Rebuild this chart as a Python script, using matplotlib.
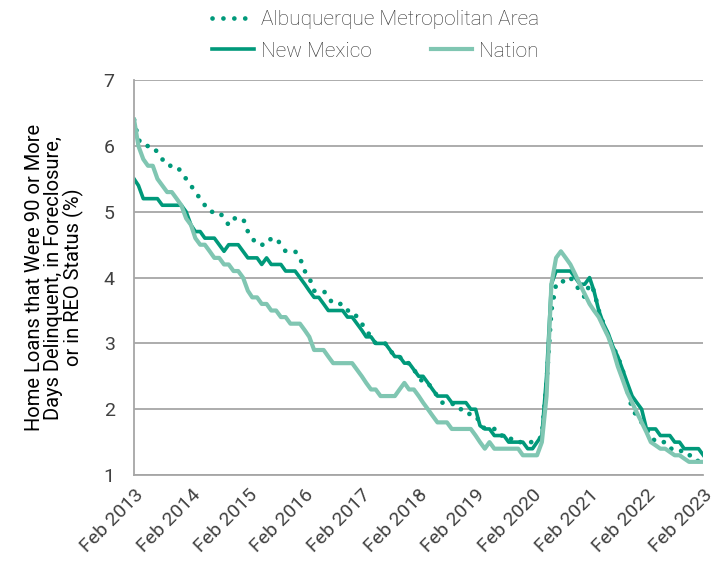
import numpy as np
import pandas as pd
import matplotlib
matplotlib.use("Agg")
import matplotlib.pyplot as plt

# Monthly values, Feb 2013 - Feb 2023 (%)
months = pd.date_range("2013-02-01", "2023-02-01", freq="MS")

albuquerque = [
    6.4, 6.1, 6.0, 6.0, 6.0, 5.9, 5.8, 5.7, 5.7, 5.7, 5.6, 5.5,
    5.4, 5.3, 5.2, 5.1, 5.0, 5.0, 5.0, 4.9, 4.8, 4.9, 4.9, 4.9,
    4.7, 4.6, 4.5, 4.5, 4.5, 4.6, 4.6, 4.5, 4.4, 4.4, 4.4, 4.3,
    4.1, 4.0, 3.8, 3.8, 3.8, 3.7, 3.6, 3.6, 3.6, 3.5, 3.5, 3.4,
    3.3, 3.2, 3.1, 3.0, 3.0, 3.0, 2.9, 2.8, 2.8, 2.7, 2.7, 2.6,
    2.5, 2.4, 2.4, 2.3, 2.2, 2.1, 2.1, 2.1, 2.0, 2.0, 2.0, 1.9,
    1.9, 1.8, 1.7, 1.7, 1.7, 1.6, 1.6, 1.6, 1.5, 1.5, 1.5, 1.5,
    1.5, 1.5, 1.6, 2.4, 3.5, 3.9, 3.9, 4.0, 4.0, 3.9, 3.8, 3.7,
    3.9, 3.8, 3.5, 3.3, 3.1, 2.95, 2.8, 2.6, 2.3, 2.0, 1.9, 1.8,
    1.7, 1.6, 1.5, 1.5, 1.5, 1.4, 1.4, 1.4, 1.3, 1.3, 1.3, 1.2,
    1.2,
]

new_mexico = [
    5.5, 5.4, 5.2, 5.2, 5.2, 5.2, 5.1, 5.1, 5.1, 5.1, 5.1, 5.0,
    4.8, 4.7, 4.7, 4.6, 4.6, 4.6, 4.5, 4.4, 4.5, 4.5, 4.5, 4.4,
    4.3, 4.3, 4.3, 4.2, 4.3, 4.2, 4.2, 4.2, 4.1, 4.1, 4.1, 4.0,
    3.9, 3.8, 3.7, 3.7, 3.6, 3.5, 3.5, 3.5, 3.5, 3.4, 3.4, 3.3,
    3.2, 3.1, 3.1, 3.0, 3.0, 3.0, 2.9, 2.8, 2.8, 2.7, 2.7, 2.6,
    2.5, 2.5, 2.4, 2.3, 2.2, 2.2, 2.2, 2.1, 2.1, 2.1, 2.1, 2.0,
    2.0, 1.75, 1.7, 1.7, 1.6, 1.6, 1.6, 1.5, 1.5, 1.5, 1.5, 1.4,
    1.4, 1.5, 1.6, 2.5, 3.9, 4.1, 4.1, 4.1, 4.1, 4.0, 3.9, 3.9,
    4.0, 3.8, 3.5, 3.3, 3.15, 2.95, 2.8, 2.6, 2.4, 2.2, 2.1, 2.0,
    1.7, 1.7, 1.7, 1.6, 1.6, 1.6, 1.5, 1.5, 1.4, 1.4, 1.4, 1.4,
    1.3,
]

nation = [
    6.4, 6.0, 5.8, 5.7, 5.7, 5.5, 5.4, 5.3, 5.3, 5.2, 5.1, 4.9,
    4.8, 4.6, 4.5, 4.5, 4.4, 4.3, 4.3, 4.2, 4.2, 4.1, 4.1, 4.0,
    3.8, 3.7, 3.7, 3.6, 3.6, 3.5, 3.5, 3.4, 3.4, 3.3, 3.3, 3.3,
    3.2, 3.1, 2.9, 2.9, 2.9, 2.8, 2.7, 2.7, 2.7, 2.7, 2.7, 2.6,
    2.5, 2.4, 2.3, 2.3, 2.2, 2.2, 2.2, 2.2, 2.3, 2.4, 2.3, 2.3,
    2.2, 2.1, 2.0, 1.9, 1.8, 1.8, 1.8, 1.7, 1.7, 1.7, 1.7, 1.7,
    1.6, 1.5, 1.4, 1.5, 1.4, 1.4, 1.4, 1.4, 1.4, 1.4, 1.3, 1.3,
    1.3, 1.3, 1.5, 2.2, 3.9, 4.3, 4.4, 4.3, 4.2, 4.05, 3.9, 3.75,
    3.6, 3.5, 3.4, 3.25, 3.1, 2.9, 2.65, 2.45, 2.25, 2.1, 1.95, 1.8,
    1.65, 1.5, 1.45, 1.4, 1.4, 1.35, 1.3, 1.3, 1.25, 1.2, 1.2, 1.2,
    1.2,
]

dark_green = "#00997a"
light_green = "#80c6b2"
text_grey = "#404040"
grid_grey = "#a6a6a6"

plt.rcParams["font.family"] = ["Roboto", "DejaVu Sans"]
plt.rcParams["font.weight"] = "light"

fig = plt.figure(figsize=(7.17, 5.73), dpi=100)
ax = fig.add_axes([0.187, 0.171, 0.794, 0.689])

# drawing order = legend order, Nation ends up on top
l_abq, = ax.plot(months, albuquerque, color=dark_green, lw=3.4,
                 linestyle=(0, (0.01, 2.3)), dash_capstyle="round",
                 label="Albuquerque Metropolitan Area")
l_nm, = ax.plot(months, new_mexico, color=dark_green, lw=2.6,
                label="New Mexico")
l_nat, = ax.plot(months, nation, color=light_green, lw=3.0,
                 label="Nation")

ax.set_ylim(1, 7)
ax.set_xlim(months[0], months[-1])
ax.set_yticks(range(1, 8))
ax.yaxis.grid(True, color=grid_grey, lw=1.3)
ax.set_axisbelow(True)

tick_dates = pd.date_range("2013-02-01", "2023-02-01", freq="12MS")
ax.set_xticks(tick_dates)
ax.set_xticklabels([d.strftime("Feb %Y") for d in tick_dates],
                   rotation=45, ha="right", rotation_mode="anchor")

for s in ["top", "right"]:
    ax.spines[s].set_visible(False)
for s in ["left", "bottom"]:
    ax.spines[s].set_color(grid_grey)
    ax.spines[s].set_linewidth(1.3)
ax.tick_params(axis="both", length=0, labelsize=14, colors=text_grey)
ax.tick_params(axis="y", pad=14)
ax.tick_params(axis="x", pad=8)
for lbl in ax.get_xticklabels() + ax.get_yticklabels():
    lbl.set_fontweight("normal")

ax.set_ylabel("Home Loans that Were 90 or More\nDays Delinquent, in Foreclosure,\nor in REO Status (%)",
              fontsize=14.5, color="black", linespacing=1.0, labelpad=14)

leg1 = fig.legend(handles=[l_abq], loc="upper left", bbox_to_anchor=(0.27, 1.015),
                  frameon=False, fontsize=15, handlelength=2.0, handletextpad=0.35)
leg2 = fig.legend(handles=[l_nm, l_nat], loc="upper left", bbox_to_anchor=(0.27, 0.96),
                  ncol=2, frameon=False, fontsize=15, handlelength=2.0,
                  handletextpad=0.35, columnspacing=2.8)
for lg in (leg1, leg2):
    for t in lg.get_texts():
        t.set_color("#333333")

fig.savefig("out.png", dpi=100)
